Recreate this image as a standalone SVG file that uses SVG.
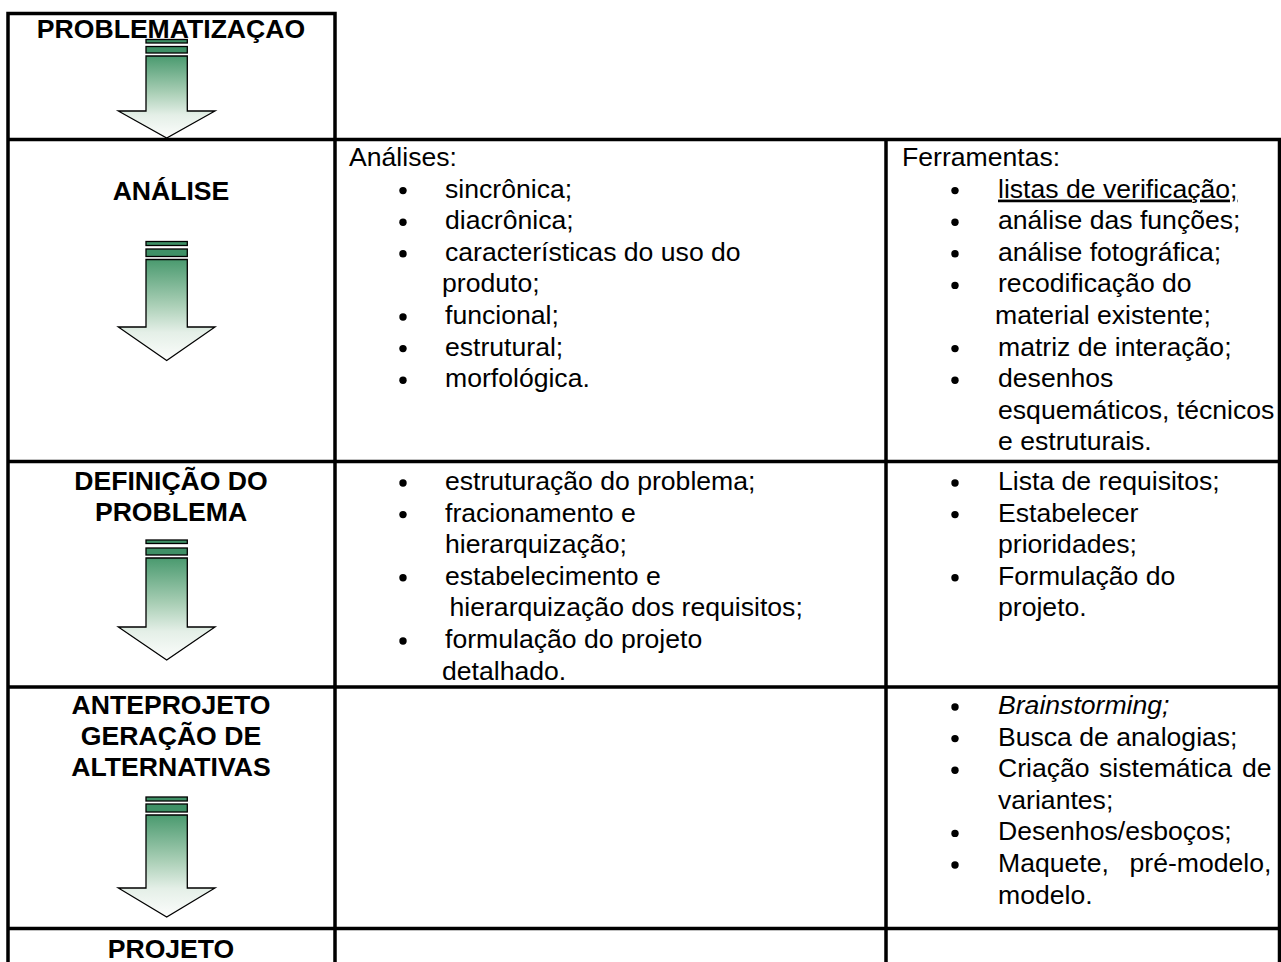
<svg xmlns="http://www.w3.org/2000/svg" width="1281" height="962" viewBox="0 0 1281 962">
<defs>
<linearGradient id="g" x1="0" y1="0" x2="0" y2="1">
<stop offset="0" stop-color="#4a9a6f"/>
<stop offset="0.45" stop-color="#aacfb6"/>
<stop offset="0.72" stop-color="#e4efe7"/>
<stop offset="1" stop-color="#fcfdfc"/>
</linearGradient>
<style>
.t{font-family:"Liberation Sans",Arial,sans-serif;font-size:26.6px;fill:#000}
.h{font-family:"Liberation Sans",Arial,sans-serif;font-size:26.6px;font-weight:bold;text-anchor:middle;fill:#000}
.u{text-decoration:underline}
.i{font-style:italic}
.ln{stroke:#000;stroke-width:3.5;fill:none}
.bar{fill:#3f9066;stroke:#000;stroke-width:1.3}
.arr{fill:url(#g);stroke:#000;stroke-width:1.3;stroke-linejoin:miter}
</style>
<circle id="b" r="3.7" fill="#000"/>
</defs>
<rect width="1281" height="962" fill="#fff"/>

<g id="grid" class="ln">
<path d="M8,13.5 H335 M8,139.5 H1281 M8,461.5 H1281 M8,687 H1281 M8,928.5 H1281 M8,11.75 V962 M335,11.75 V962 M886,139.5 V962 M1279.5,139.5 V962"/>
</g>

<g id="problematizacao">
<text class="h" x="171" y="38">PROBLEMATIZAÇAO</text>
</g>

<g id="analise">
<text class="h" x="171" y="199.5">ANÁLISE</text>
</g>
<g id="analise-analises">
<text class="t" x="349" y="166">Análises:</text>
<use href="#b" x="403" y="190.6"/><text class="t" x="445" y="197.6">sincrônica;</text>
<use href="#b" x="403" y="222.2"/><text class="t" x="445" y="229.2">diacrônica;</text>
<use href="#b" x="403" y="253.8"/><text class="t" x="445" y="260.8">características do uso do</text>
<text class="t" x="442" y="292.4">produto;</text>
<use href="#b" x="403" y="317"/><text class="t" x="445" y="324">funcional;</text>
<use href="#b" x="403" y="348.6"/><text class="t" x="445" y="355.6">estrutural;</text>
<use href="#b" x="403" y="380.2"/><text class="t" x="445" y="387.2">morfológica.</text>
</g>
<g id="analise-ferramentas">
<text class="t" x="902" y="166">Ferramentas:</text>
<use href="#b" x="955" y="190.6"/><text class="t u" x="998" y="197.6">listas de verificação;</text>
<use href="#b" x="955" y="222.2"/><text class="t" x="998" y="229.2">análise das funções;</text>
<use href="#b" x="955" y="253.8"/><text class="t" x="998" y="260.8">análise fotográfica;</text>
<use href="#b" x="955" y="285.4"/><text class="t" x="998" y="292.4">recodificação do</text>
<text class="t" x="995" y="324">material existente;</text>
<use href="#b" x="955" y="348.6"/><text class="t" x="998" y="355.6">matriz de interação;</text>
<use href="#b" x="955" y="380.2"/><text class="t" x="998" y="387.2">desenhos</text>
<text class="t" x="998" y="418.8">esquemáticos, técnicos</text>
<text class="t" x="998" y="450.4">e estruturais.</text>
</g>

<g id="definicao">
<text class="h" x="171" y="489.5">DEFINIÇÃO DO</text>
<text class="h" x="171" y="520.5">PROBLEMA</text>
</g>
<g id="definicao-analises">
<use href="#b" x="403" y="483"/><text class="t" x="445" y="490">estruturação do problema;</text>
<use href="#b" x="403" y="514.6"/><text class="t" x="445" y="521.6">fracionamento e</text>
<text class="t" x="445" y="553.2">hierarquização;</text>
<use href="#b" x="403" y="577.8"/><text class="t" x="445" y="584.8">estabelecimento e</text>
<text class="t" x="449.5" y="616.4">hierarquização dos requisitos;</text>
<use href="#b" x="403" y="641"/><text class="t" x="445" y="648">formulação do projeto</text>
<text class="t" x="442" y="679.6">detalhado.</text>
</g>
<g id="definicao-ferramentas">
<use href="#b" x="955" y="483"/><text class="t" x="998" y="490">Lista de requisitos;</text>
<use href="#b" x="955" y="514.6"/><text class="t" x="998" y="521.6">Estabelecer</text>
<text class="t" x="998" y="553.2">prioridades;</text>
<use href="#b" x="955" y="577.8"/><text class="t" x="998" y="584.8">Formulação do</text>
<text class="t" x="998" y="616.4">projeto.</text>
</g>

<g id="anteprojeto">
<text class="h" x="171" y="713.5">ANTEPROJETO</text>
<text class="h" x="171" y="744.5">GERAÇÃO DE</text>
<text class="h" x="171" y="775.5">ALTERNATIVAS</text>
</g>
<g id="anteprojeto-ferramentas">
<use href="#b" x="955" y="707"/><text class="t i" x="998" y="714">Brainstorming;</text>
<use href="#b" x="955" y="738.6"/><text class="t" x="998" y="745.6">Busca de analogias;</text>
<use href="#b" x="955" y="770.2"/><text class="t" x="998" y="777.2">Criação<tspan x="1099">sistemática</tspan><tspan x="1242">de</tspan></text>
<text class="t" x="998" y="808.8">variantes;</text>
<use href="#b" x="955" y="833.4"/><text class="t" x="998" y="840.4">Desenhos/esboços;</text>
<use href="#b" x="955" y="865"/><text class="t" x="998" y="872">Maquete,<tspan x="1129.5">pré-modelo,</tspan></text>
<text class="t" x="998" y="903.6">modelo.</text>
</g>

<g id="projeto">
<text class="h" x="171" y="958">PROJETO</text>
</g>

<g id="connectors">
<rect class="bar" x="146" y="39.5" width="41.3" height="3.5"/>
<rect class="bar" x="146" y="46.5" width="41.3" height="6.5"/>
<polygon class="arr" points="146,56 187.3,56 187.3,111 215,111 166.7,138 118.3,111 146,111"/>

<rect class="bar" x="146" y="241.5" width="41.3" height="4"/>
<rect class="bar" x="146" y="249" width="41.3" height="7.5"/>
<polygon class="arr" points="146,259.5 187.3,259.5 187.3,327 215,327 166.7,360.5 118.3,327 146,327"/>

<rect class="bar" x="146" y="540" width="41.3" height="3.5"/>
<rect class="bar" x="146" y="548" width="41.3" height="7"/>
<polygon class="arr" points="146,558 187.3,558 187.3,627 215,627 166.7,660 118.3,627 146,627"/>

<rect class="bar" x="146" y="797" width="41.3" height="4"/>
<rect class="bar" x="146" y="804" width="41.3" height="8"/>
<polygon class="arr" points="146,815 187.3,815 187.3,888 215,888 166.7,917 118.3,888 146,888"/>
</g>
</svg>
